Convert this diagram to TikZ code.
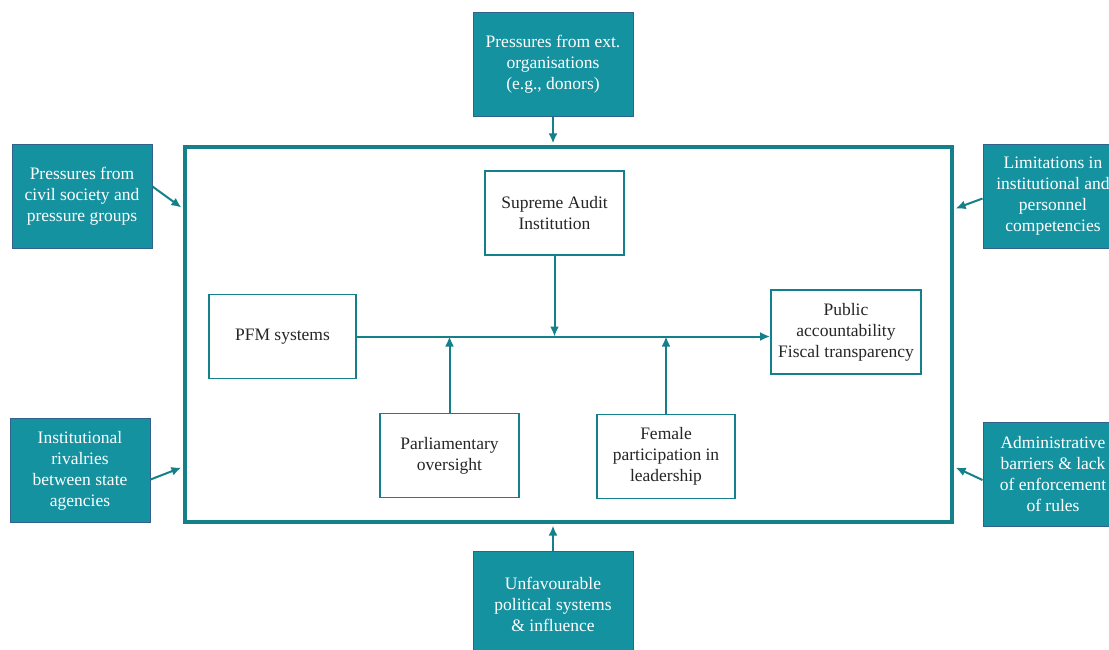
\documentclass[tikz,border=0pt]{standalone}
\usepackage{fontspec}
\setmainfont{Liberation Serif}
\usepackage{tikz}
\usetikzlibrary{arrows.meta}

\definecolor{tealfill}{RGB}{21,146,160}
\definecolor{tealedge}{RGB}{52,96,140}
\definecolor{tealline}{RGB}{19,128,138}

\begin{document}
\begin{tikzpicture}[x=1pt,y=-1pt,
  pressure/.style={draw=tealedge,line width=1pt,fill=tealfill,text=white,
    align=center,inner sep=0pt,minimum width=140pt,minimum height=104pt,
    font=\fontsize{17.5}{21}\selectfont},
  factor/.style={draw=tealline,line width=1.8pt,fill=white,text=black!85,
    align=center,inner sep=0pt,minimum height=84pt,
    font=\fontsize{17.5}{21}\selectfont},
  link/.style={draw=tealline,line width=2pt,-{Latex[length=10pt,width=9pt]}}]
\useasboundingbox (0,0) rectangle (1109,649);
\clip (0,0) rectangle (1109,649);
% main frame
\node[draw=tealline,line width=3.6pt,minimum width=767pt,minimum height=375pt,inner sep=0pt]
  (frame) at (568.5,334.5) {};
% outside pressures
\node[pressure,minimum width=160pt] (donors) at (553,64) {Pressures from ext.\\ organisations\\ (e.g., donors)};
\node[pressure] (civil) at (82,196.5) {Pressures from\\ civil society and\\ pressure groups};
\node[pressure] (rivalry) at (80,470.5) {Institutional\\ rivalries\\ between state\\ agencies};
\node[pressure] (limits) at (1053,196.5) {Limitations in\\ institutional and\\ personnel\\ competencies};
\node[pressure] (barriers) at (1053,474) {Administrative\\ barriers \& lack\\ of enforcement\\ of rules};
\node[pressure,minimum width=160pt,minimum height=106pt] (politics) at (553,604) {Unfavourable\\ political systems\\ \& influence};
% inner factors
\node[factor,minimum width=139pt] (sai) at (554.5,213) {Supreme Audit\\ Institution};
\node[factor,minimum width=147pt] (pfm) at (282.5,336.5) {PFM systems};
\node[factor,minimum width=150pt] (public) at (846,332) {Public\\ accountability\\ Fiscal transparency};
\node[factor,minimum width=139pt] (parl) at (449.5,455.5) {Parliamentary\\ oversight};
\node[factor,minimum width=138pt] (female) at (666,456.5) {Female\\ participation in\\ leadership};
% inner links
\draw[link] (pfm.east) -- (pfm.east -| public.west);
\draw[link] (sai.south) -- (sai.south |- pfm.east);
\draw[link] (parl.north) -- (parl.north |- pfm.east);
\draw[link] (female.north) -- (female.north |- pfm.east);
% pressures on the frame
\draw[link] (donors.south) -- ([yshift=1.8pt]frame.north -| donors.south);
\draw[link] (politics.north) -- ([yshift=-1.8pt]frame.south -| politics.north);
\draw[link] ([yshift=10pt]civil.east) -- ([xshift=-1.8pt,yshift=127pt]frame.west);
\draw[link] ([yshift=-9pt]rivalry.east) -- ([xshift=-1.8pt,yshift=-133pt]frame.west);
\draw[link] ([yshift=-2pt]limits.west) -- ([xshift=1.8pt,yshift=126pt]frame.east);
\draw[link] ([yshift=-6pt]barriers.west) -- ([xshift=1.8pt,yshift=-133pt]frame.east);
\end{tikzpicture}
\end{document}
